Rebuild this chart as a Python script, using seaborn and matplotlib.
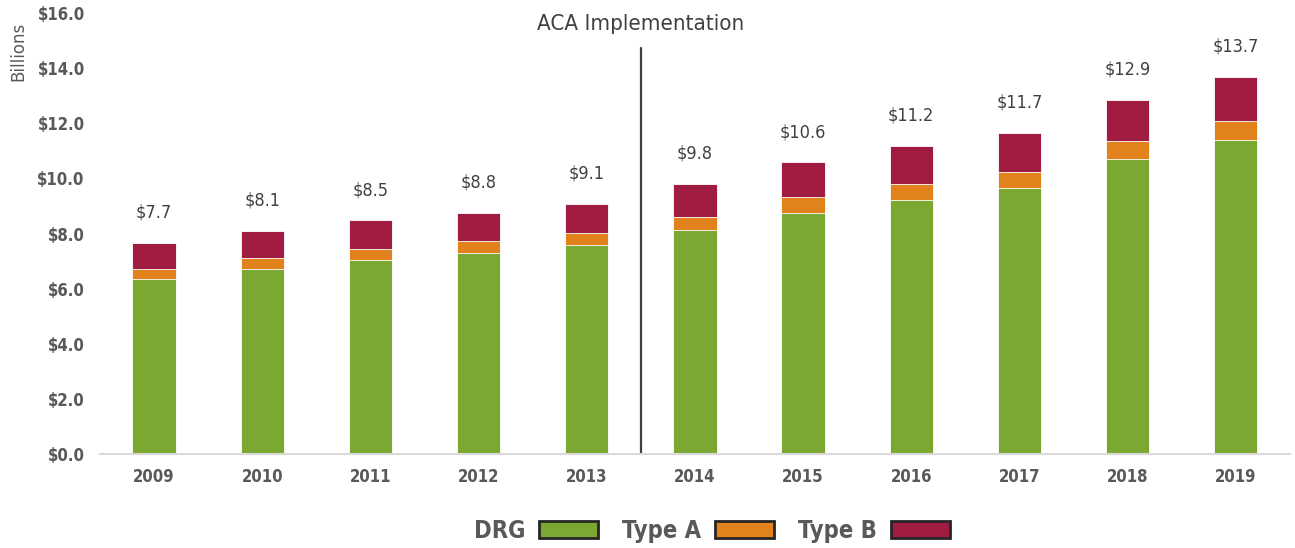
import matplotlib
matplotlib.use("Agg")
import matplotlib.pyplot as plt
from matplotlib.patches import Patch
import seaborn as sns
import pandas as pd

# valores (bilhoes de dolares)
years = ["2009", "2010", "2011", "2012", "2013", "2014", "2015", "2016", "2017", "2018", "2019"]
drg = [6.34, 6.73, 7.03, 7.29, 7.58, 8.14, 8.76, 9.23, 9.66, 10.72, 11.41]
type_a = [0.36, 0.38, 0.40, 0.43, 0.43, 0.46, 0.55, 0.56, 0.58, 0.63, 0.68]
type_b = [0.96, 1.00, 1.05, 1.04, 1.08, 1.19, 1.27, 1.38, 1.40, 1.49, 1.59]
total_labels = [7.7, 8.1, 8.5, 8.8, 9.1, 9.8, 10.6, 11.2, 11.7, 12.9, 13.7]
y_ticks = [0, 2, 4, 6, 8, 10, 12, 14, 16]

C_DRG = "#7BA830"
C_A = "#E2821D"
C_B = "#A11C41"

df = pd.DataFrame({"year": years, "drg": drg, "a": type_a, "b": type_b})
df["drg_a"] = df["drg"] + df["a"]
df["total"] = df["drg_a"] + df["b"]

sns.set_style("white")
# DejaVu Sans Condensed fica mais proxima da fonte estreita do original
plt.rcParams["font.family"] = ["DejaVu Sans"]
plt.rcParams["font.stretch"] = "condensed"

fig = plt.figure(figsize=(12.95, 5.48), dpi=100)
ax = fig.add_axes([0.0772, 0.1715, 0.9188, 0.8045])

# barras empilhadas: desenha o total e sobrepoe as partes
for col, c in [("total", C_B), ("drg_a", C_A), ("drg", C_DRG)]:
    sns.barplot(data=df, x="year", y=col, color=c, width=0.4, ax=ax,
                edgecolor="white", linewidth=0.6, saturation=1)

for i, (t, lab) in enumerate(zip(df["total"], total_labels)):
    ax.text(i, t + 1.1, f"${lab:.1f}", ha="center", va="center",
            fontsize=13, color="#404040")

ax.set_xlim(-0.5, 10.5)
ax.set_ylim(0, 16)
ax.set_yticks(y_ticks)
ax.set_yticklabels([f"${v:.1f}" for v in y_ticks])
ax.set_xlabel("")
ax.set_ylabel("")
ax.tick_params(axis="both", length=0, labelsize=12, labelcolor="#595959")
ax.tick_params(axis="x", pad=10)
ax.tick_params(axis="y", pad=11)
for lbl in ax.get_xticklabels() + ax.get_yticklabels():
    lbl.set_fontweight("bold")

sns.despine(ax=ax, left=True, top=True, right=True)
ax.spines["bottom"].set_color("#D9D9D9")
ax.spines["bottom"].set_linewidth(1.5)

# linha da implementacao do ACA
ax.plot([4.5, 4.5], [0, 14.75], color="#404040", lw=1.6, clip_on=False)
ax.text(4.5, 15.62, "ACA Implementation", ha="center", va="center",
        fontsize=16, color="#404040")

fig.text(0.0139, 0.907, "Billions", rotation=90, ha="center", va="center",
         fontsize=12, color="#595959", fontstretch="normal")

handles = [Patch(facecolor=c, edgecolor="#262626", linewidth=2) for c in (C_DRG, C_A, C_B)]
fig.legend(handles, ["DRG", "Type A", "Type B"], loc="center",
           bbox_to_anchor=(712 / 1295, 0.031), ncol=3, markerfirst=False,
           frameon=False, labelcolor="#595959",
           handlelength=2.5, handleheight=0.75, handletextpad=0.6,
           columnspacing=1.0, prop={"weight": "bold", "size": 17, "stretch": "condensed"})

fig.savefig("out.png", dpi=100)
